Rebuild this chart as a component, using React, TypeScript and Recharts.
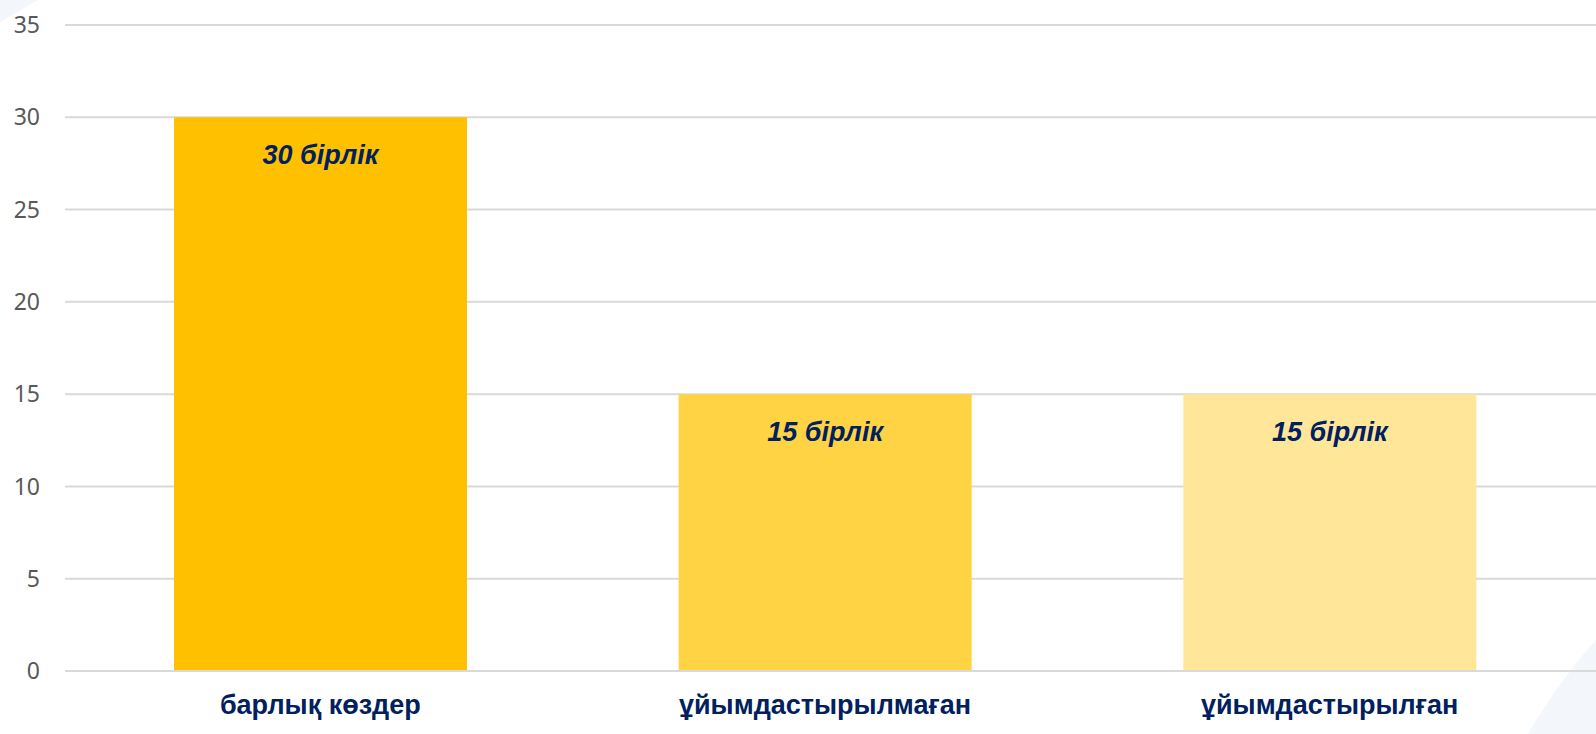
import { BarChart, Bar, XAxis, YAxis, CartesianGrid, Cell, LabelList } from "recharts";

const categories = ["барлық көздер", "ұйымдастырылмаған", "ұйымдастырылған"];
const values = [30, 15, 15];
const valueLabels = ["30 бірлік", "15 бірлік", "15 бірлік"];
const yTicks = [0, 5, 10, 15, 20, 25, 30, 35];

const barColors = ["#FFC000", "#FFD343", "#FFE699"];
const navy = "#002060";

const data = categories.map((name, i) => ({ name, value: values[i], label: valueLabels[i] }));

export default function App() {
  return (
    <div style={{ position: "absolute", left: 0, top: 0, width: 1596, height: 734, background: "#fff", overflow: "hidden" }}>
      {/* faint background decoration from the slide */}
      <svg width={1596} height={734} style={{ position: "absolute", left: 0, top: 0 }}>
        <polygon points="0,0 38,0 0,22" fill="#f3f6fa" />
        <path d="M1528,734 Q1560,680 1596,640 L1596,734 Z" fill="#f3f6fa" />
      </svg>
      <div style={{ position: "absolute", left: 0, top: 0 }}>
        <BarChart
          width={1596}
          height={734}
          data={data}
          margin={{ top: 25, right: 0, left: 0, bottom: 0 }}
          barCategoryGap="21%"
        >
          <CartesianGrid vertical={false} stroke="#d9d9d9" strokeWidth={2} />
          <XAxis
            dataKey="name"
            height={63}
            padding={{ left: 3, right: 14 }}
            axisLine={{ stroke: "#d9d9d9", strokeWidth: 2 }}
            tickLine={false}
            tickMargin={18}
            interval={0}
            tick={{ fill: navy, fontSize: 27, fontWeight: 700, fontFamily: "Liberation Sans, Arial, sans-serif" }}
          />
          <YAxis
            width={65}
            domain={[0, 35]}
            ticks={yTicks}
            axisLine={false}
            tickLine={false}
            tickMargin={19}
            tick={{ fill: "#595959", fontSize: 23, fontFamily: "Noto Sans, sans-serif" }}
          />
          <Bar dataKey="value" isAnimationActive={false}>
            {data.map((d, i) => (
              <Cell key={d.name} fill={barColors[i]} />
            ))}
            <LabelList
              dataKey="label"
              position="insideTop"
              offset={28}
              fill={navy}
              fontSize={27}
              fontWeight={700}
              fontStyle="italic"
              fontFamily="Liberation Sans, Arial, sans-serif"
            />
          </Bar>
        </BarChart>
      </div>
    </div>
  );
}
